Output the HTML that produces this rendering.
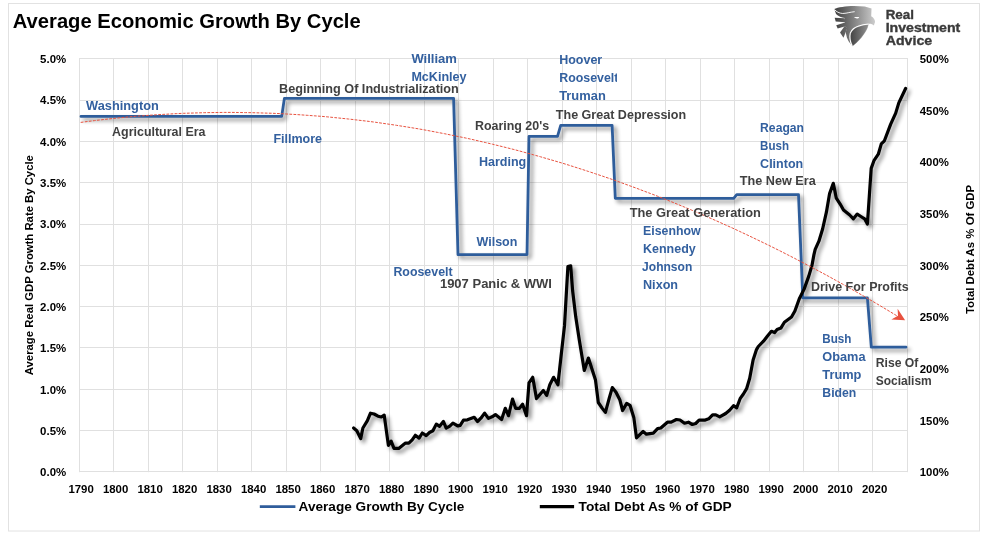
<!DOCTYPE html>
<html lang="en"><head><meta charset="utf-8"><title>Average Economic Growth By Cycle</title>
<style>
html,body{margin:0;padding:0;background:#fff;}
body{width:985px;height:536px;overflow:hidden;}
svg{display:block;}
svg text{font-family:"Liberation Sans",sans-serif;font-weight:bold;}
</style></head><body>
<svg width="985" height="536" viewBox="0 0 985 536">
<defs>
<filter id="sh" x="-5%" y="-5%" width="110%" height="115%"><feGaussianBlur in="SourceAlpha" stdDeviation="2.3"/><feOffset dx="2.5" dy="2.8" result="o"/><feComponentTransfer><feFuncA type="linear" slope="0.46"/></feComponentTransfer><feMerge><feMergeNode/><feMergeNode in="SourceGraphic"/></feMerge></filter>
<linearGradient id="eg" gradientUnits="userSpaceOnUse" x1="25" y1="0" x2="525" y2="0"><stop offset="0" stop-color="#3e3e3e"/><stop offset="0.5" stop-color="#858585"/><stop offset="1" stop-color="#cdcdcd"/></linearGradient>
<linearGradient id="eg2" x1="0" y1="0" x2="1" y2="0"><stop offset="0" stop-color="#454545"/><stop offset="1" stop-color="#909090"/></linearGradient>
<clipPath id="cr"><rect x="550" y="66" width="66.9" height="22"/></clipPath>
</defs>
<rect x="0" y="0" width="985" height="536" fill="#fff"/>
<rect x="8.5" y="3.5" width="971" height="527.5" fill="#fff" stroke="#E2E2E2" stroke-width="1"/>
<path d="M79.5,58 V472.2 M113.5,58 V472.2 M148.5,58 V472.2 M182.5,58 V472.2 M217.5,58 V472.2 M251.5,58 V472.2 M286.5,58 V472.2 M320.5,58 V472.2 M355.5,58 V472.2 M389.5,58 V472.2 M424.5,58 V472.2 M458.5,58 V472.2 M493.5,58 V472.2 M527.5,58 V472.2 M562.5,58 V472.2 M596.5,58 V472.2 M631.5,58 V472.2 M665.5,58 V472.2 M700.5,58 V472.2 M734.5,58 V472.2 M769.5,58 V472.2 M803.5,58 V472.2 M838.5,58 V472.2 M872.5,58 V472.2 M907.5,58 V472.2 M79,58.5 H908 M79,100.5 H908 M79,141.5 H908 M79,182.5 H908 M79,224.5 H908 M79,265.5 H908 M79,306.5 H908 M79,347.5 H908 M79,389.5 H908 M79,430.5 H908 M79,471.5 H908" fill="none" stroke="#E0E0E0" stroke-width="1"/>
<g fill="none" stroke-linejoin="round" stroke-linecap="round" filter="url(#sh)">
<path d="M81,116.4 L281.7,116.4 L284.4,98.4 L453.6,98.4 L458,254.6 L527,254.6 L529,136.3 L557.5,136.3 L560.7,125.3 L612.1,125.3 L615.3,198.3 L733.7,198.3 L736.7,194.6 L798.5,194.6 L802.8,297.9 L867.4,297.9 L871.3,347.2 L906,347.2" stroke="#2F5D9B" stroke-width="2.8"/>
<path d="M353.6,428 L356.8,430.8 L360.7,438.6 L362.9,428 L367.4,420.7 L370.5,413.2 L374.1,414 L378,416.2 L381.4,417 L384.2,415.1 L388.4,445.4 L391.1,441.2 L394,448.4 L398.7,448.4 L405.5,443.1 L408.8,443.1 L412.2,439.8 L415.3,435.3 L419.1,438.1 L422.3,433 L426.2,435.6 L429.5,432.5 L432.9,430.8 L436.3,424.1 L439.6,426.3 L443.4,421.4 L446.2,428.2 L449.8,426.2 L452.9,423.2 L457.9,426 L460.2,425.4 L463.5,420.2 L467.4,419.8 L474.2,417.3 L477.5,421.5 L480.9,418.2 L484.6,413.1 L488.4,418.4 L492.1,416.8 L495.4,414.6 L501.6,419.5 L505.3,408.3 L508.5,415.7 L512.5,399.1 L515.6,408.3 L519.5,408.3 L522.6,404.2 L526.5,415.7 L529,382.9 L532.7,377.3 L536.5,398.6 L543.3,390.4 L546.7,395.4 L549.8,384.8 L553.6,377.3 L557.9,384.8 L561,356.8 L564.5,325.9 L566.4,292.3 L567.9,266.6 L570.7,265.8 L572.6,290.5 L575.7,316.6 L579.3,340 L584.3,370.4 L588.4,358.1 L595.5,380.1 L598.3,402.5 L602.1,408.1 L605.4,412.4 L609.1,398.7 L612.3,387.6 L616,392.2 L619.8,399.7 L622.6,410.5 L626.7,403.4 L630,405.3 L633.8,417.4 L636.5,437.9 L643.1,431.4 L646.4,434.2 L653.3,433.2 L657.6,428.6 L660.8,428 L667.4,422.2 L671.2,422.2 L676.4,419.5 L680,420 L684.5,423.2 L688.4,422.2 L692.3,424.5 L695.7,423.5 L699.1,420.1 L705.3,420.1 L708.7,418.8 L712.6,414.9 L715.8,414.9 L719.7,416.9 L725.7,413.5 L729.6,410.2 L733.5,405.7 L736.7,407.8 L740.1,398.7 L743.4,394 L746.6,388.7 L749.7,378.3 L753.1,360 L756.5,349.6 L758.3,346.5 L763.5,341.2 L767.5,336 L771.4,331.3 L774.5,332.6 L777.1,329.5 L781,327.9 L784.4,322.2 L791.5,317 L794.9,311 L799.3,298.8 L804,289.4 L808.7,276.4 L812,265.2 L813.9,254.9 L815.2,249.3 L818.9,241.2 L822.6,229 L826.4,212.2 L829.6,193.6 L833.3,183.3 L836.3,198.2 L840,203.8 L843.5,210 L849.7,215 L853.4,218.8 L857.2,214.1 L860.9,216.5 L864.6,218.8 L867.4,224 L869.3,196.4 L871.2,168.4 L874.1,160.3 L878.3,154.2 L881.3,143.9 L884.4,140.8 L890.6,124.4 L895.7,113.1 L898.8,102.9 L905.6,88.5" stroke="#000" stroke-width="3.2"/>
</g>
<path d="M80.7,122.4 L87.6,121.5 L94.4,120.6 L101.3,119.8 L108.2,119 L115,118.3 L121.9,117.6 L128.7,116.9 L135.6,116.3 L142.5,115.8 L149.3,115.3 L156.2,114.8 L163.1,114.4 L169.9,114 L176.8,113.6 L183.7,113.3 L190.5,113.1 L197.4,112.9 L204.2,112.7 L211.1,112.6 L218,112.5 L224.8,112.4 L231.7,112.4 L238.6,112.5 L245.4,112.6 L252.3,112.7 L259.2,112.9 L266,113.1 L272.9,113.3 L279.8,113.6 L286.6,114 L293.5,114.4 L300.3,114.8 L307.2,115.3 L314.1,115.8 L320.9,116.3 L327.8,116.9 L334.7,117.6 L341.5,118.3 L348.4,119 L355.3,119.8 L362.1,120.6 L369,121.4 L375.8,122.3 L382.7,123.3 L389.6,124.3 L396.4,125.3 L403.3,126.4 L410.2,127.5 L417,128.6 L423.9,129.8 L430.8,131.1 L437.6,132.4 L444.5,133.7 L451.3,135.1 L458.2,136.5 L465.1,137.9 L471.9,139.4 L478.8,141 L485.7,142.6 L492.5,144.2 L499.4,145.9 L506.3,147.6 L513.1,149.3 L520,151.1 L526.9,153 L533.7,154.9 L540.6,156.8 L547.4,158.8 L554.3,160.8 L561.2,162.8 L568,164.9 L574.9,167.1 L581.8,169.3 L588.6,171.5 L595.5,173.8 L602.4,176.1 L609.2,178.4 L616.1,180.8 L622.9,183.3 L629.8,185.8 L636.7,188.3 L643.5,190.9 L650.4,193.5 L657.3,196.1 L664.1,198.8 L671,201.6 L677.9,204.4 L684.7,207.2 L691.6,210.1 L698.4,213 L705.3,216 L712.2,219 L719,222 L725.9,225.1 L732.8,228.2 L739.6,231.4 L746.5,234.6 L753.4,237.9 L760.2,241.2 L767.1,244.5 L774,247.9 L780.8,251.3 L787.7,254.8 L794.5,258.3 L801.4,261.9 L808.3,265.5 L815.1,269.1 L822,272.8 L828.9,276.5 L835.7,280.3 L842.6,284.1 L849.5,288 L856.3,291.9 L863.2,295.8 L870,299.8 L876.9,303.8 L883.8,307.9 L890.6,312 L897.5,316.2" fill="none" stroke="#E8523F" stroke-width="1" stroke-dasharray="2.8 1.3"/>
<path d="M905.1,320.2 L891.3,319.5 L898,315.7 L897.6,308.7 Z" fill="#E8523F"/>
<g fill="#33609F">
<text x="86.1" y="110.1" font-size="12.8" textLength="72.7" lengthAdjust="spacingAndGlyphs">Washington</text>
<text x="273.4" y="143" font-size="12.8" textLength="48.7" lengthAdjust="spacingAndGlyphs">Fillmore</text>
<text x="411.4" y="63.3" font-size="12.8" textLength="45.6" lengthAdjust="spacingAndGlyphs">William</text>
<text x="411.4" y="80.7" font-size="12.8" textLength="55.2" lengthAdjust="spacingAndGlyphs">McKinley</text>
<text x="478.9" y="166.3" font-size="12.8" textLength="47.4" lengthAdjust="spacingAndGlyphs">Harding</text>
<text x="476.5" y="246.1" font-size="12.8" textLength="40.9" lengthAdjust="spacingAndGlyphs">Wilson</text>
<text x="393.4" y="275.6" font-size="12.8" textLength="59.2" lengthAdjust="spacingAndGlyphs">Roosevelt</text>
<text x="559.2" y="64.1" font-size="12.8" textLength="43" lengthAdjust="spacingAndGlyphs">Hoover</text>
<text x="559.2" y="99.8" font-size="12.8" textLength="46.6" lengthAdjust="spacingAndGlyphs">Truman</text>
<text x="760.1" y="132" font-size="12.8" textLength="43.9" lengthAdjust="spacingAndGlyphs">Reagan</text>
<text x="760.1" y="149.9" font-size="12.8" textLength="28.9" lengthAdjust="spacingAndGlyphs">Bush</text>
<text x="760.1" y="168.1" font-size="12.8" textLength="43.1" lengthAdjust="spacingAndGlyphs">Clinton</text>
<text x="643" y="235" font-size="12.8" textLength="57.6" lengthAdjust="spacingAndGlyphs">Eisenhow</text>
<text x="643" y="253" font-size="12.8" textLength="52.8" lengthAdjust="spacingAndGlyphs">Kennedy</text>
<text x="642.1" y="270.7" font-size="12.8" textLength="50.2" lengthAdjust="spacingAndGlyphs">Johnson</text>
<text x="643" y="288.6" font-size="12.8" textLength="35.1" lengthAdjust="spacingAndGlyphs">Nixon</text>
<text x="822.3" y="342.7" font-size="12.8" textLength="29.2" lengthAdjust="spacingAndGlyphs">Bush</text>
<text x="822.3" y="360.9" font-size="12.8" textLength="43.2" lengthAdjust="spacingAndGlyphs">Obama</text>
<text x="822.3" y="378.9" font-size="12.8" textLength="39.1" lengthAdjust="spacingAndGlyphs">Trump</text>
<text x="822.3" y="396.6" font-size="12.8" textLength="34" lengthAdjust="spacingAndGlyphs">Biden</text>
<g clip-path="url(#cr)"><text x="559.2" y="81.9" font-size="12.8" textLength="59.2" lengthAdjust="spacingAndGlyphs">Roosevelt</text></g>
</g>
<g fill="#404040">
<text x="112.1" y="136.1" font-size="12.8" textLength="93.4" lengthAdjust="spacingAndGlyphs">Agricultural Era</text>
<text x="279" y="93" font-size="12.8" textLength="179.8" lengthAdjust="spacingAndGlyphs">Beginning Of Industrialization</text>
<text x="474.9" y="129.9" font-size="12.8" textLength="74.2" lengthAdjust="spacingAndGlyphs">Roaring 20's</text>
<text x="439.9" y="287.9" font-size="12.8" textLength="112.1" lengthAdjust="spacingAndGlyphs">1907 Panic &amp; WWI</text>
<text x="555.8" y="118.5" font-size="12.8" textLength="130.4" lengthAdjust="spacingAndGlyphs">The Great Depression</text>
<text x="739.8" y="185.1" font-size="12.8" textLength="75.9" lengthAdjust="spacingAndGlyphs">The New Era</text>
<text x="629.7" y="217.2" font-size="12.8" textLength="131.2" lengthAdjust="spacingAndGlyphs">The Great Generation</text>
<text x="810.9" y="291" font-size="12.8" textLength="97.8" lengthAdjust="spacingAndGlyphs">Drive For Profits</text>
<text x="875.7" y="366.8" font-size="12.8" textLength="42.7" lengthAdjust="spacingAndGlyphs">Rise Of</text>
<text x="875.7" y="384.5" font-size="12.8" textLength="56.1" lengthAdjust="spacingAndGlyphs">Socialism</text>
</g>
<g fill="#000">
<text x="40.1" y="63.1" font-size="10.6" textLength="26.1" lengthAdjust="spacingAndGlyphs">5.0%</text>
<text x="40.1" y="104.4" font-size="10.6" textLength="26.1" lengthAdjust="spacingAndGlyphs">4.5%</text>
<text x="40.1" y="145.7" font-size="10.6" textLength="26.1" lengthAdjust="spacingAndGlyphs">4.0%</text>
<text x="40.1" y="187" font-size="10.6" textLength="26.1" lengthAdjust="spacingAndGlyphs">3.5%</text>
<text x="40.1" y="228.3" font-size="10.6" textLength="26.1" lengthAdjust="spacingAndGlyphs">3.0%</text>
<text x="40.1" y="269.6" font-size="10.6" textLength="26.1" lengthAdjust="spacingAndGlyphs">2.5%</text>
<text x="40.1" y="310.9" font-size="10.6" textLength="26.1" lengthAdjust="spacingAndGlyphs">2.0%</text>
<text x="40.1" y="352.2" font-size="10.6" textLength="26.1" lengthAdjust="spacingAndGlyphs">1.5%</text>
<text x="40.1" y="393.5" font-size="10.6" textLength="26.1" lengthAdjust="spacingAndGlyphs">1.0%</text>
<text x="40.1" y="434.8" font-size="10.6" textLength="26.1" lengthAdjust="spacingAndGlyphs">0.5%</text>
<text x="40.1" y="476.1" font-size="10.6" textLength="26.1" lengthAdjust="spacingAndGlyphs">0.0%</text>
<text x="919.8" y="63.1" font-size="10.6" textLength="29.1" lengthAdjust="spacingAndGlyphs">500%</text>
<text x="919.8" y="114.7" font-size="10.6" textLength="29.1" lengthAdjust="spacingAndGlyphs">450%</text>
<text x="919.8" y="166.3" font-size="10.6" textLength="29.1" lengthAdjust="spacingAndGlyphs">400%</text>
<text x="919.8" y="218" font-size="10.6" textLength="29.1" lengthAdjust="spacingAndGlyphs">350%</text>
<text x="919.8" y="269.6" font-size="10.6" textLength="29.1" lengthAdjust="spacingAndGlyphs">300%</text>
<text x="919.8" y="321.2" font-size="10.6" textLength="29.1" lengthAdjust="spacingAndGlyphs">250%</text>
<text x="919.8" y="372.8" font-size="10.6" textLength="29.1" lengthAdjust="spacingAndGlyphs">200%</text>
<text x="919.8" y="424.5" font-size="10.6" textLength="29.1" lengthAdjust="spacingAndGlyphs">150%</text>
<text x="919.8" y="476.1" font-size="10.6" textLength="29.1" lengthAdjust="spacingAndGlyphs">100%</text>
<text x="68.4" y="492.9" font-size="10.6" textLength="25.4" lengthAdjust="spacingAndGlyphs">1790</text>
<text x="102.9" y="492.9" font-size="10.6" textLength="25.4" lengthAdjust="spacingAndGlyphs">1800</text>
<text x="137.4" y="492.9" font-size="10.6" textLength="25.4" lengthAdjust="spacingAndGlyphs">1810</text>
<text x="171.9" y="492.9" font-size="10.6" textLength="25.4" lengthAdjust="spacingAndGlyphs">1820</text>
<text x="206.4" y="492.9" font-size="10.6" textLength="25.4" lengthAdjust="spacingAndGlyphs">1830</text>
<text x="240.9" y="492.9" font-size="10.6" textLength="25.4" lengthAdjust="spacingAndGlyphs">1840</text>
<text x="275.4" y="492.9" font-size="10.6" textLength="25.4" lengthAdjust="spacingAndGlyphs">1850</text>
<text x="309.9" y="492.9" font-size="10.6" textLength="25.4" lengthAdjust="spacingAndGlyphs">1860</text>
<text x="344.4" y="492.9" font-size="10.6" textLength="25.4" lengthAdjust="spacingAndGlyphs">1870</text>
<text x="378.9" y="492.9" font-size="10.6" textLength="25.4" lengthAdjust="spacingAndGlyphs">1880</text>
<text x="413.4" y="492.9" font-size="10.6" textLength="25.4" lengthAdjust="spacingAndGlyphs">1890</text>
<text x="447.9" y="492.9" font-size="10.6" textLength="25.4" lengthAdjust="spacingAndGlyphs">1900</text>
<text x="482.4" y="492.9" font-size="10.6" textLength="25.4" lengthAdjust="spacingAndGlyphs">1910</text>
<text x="516.9" y="492.9" font-size="10.6" textLength="25.4" lengthAdjust="spacingAndGlyphs">1920</text>
<text x="551.4" y="492.9" font-size="10.6" textLength="25.4" lengthAdjust="spacingAndGlyphs">1930</text>
<text x="585.9" y="492.9" font-size="10.6" textLength="25.4" lengthAdjust="spacingAndGlyphs">1940</text>
<text x="620.4" y="492.9" font-size="10.6" textLength="25.4" lengthAdjust="spacingAndGlyphs">1950</text>
<text x="654.9" y="492.9" font-size="10.6" textLength="25.4" lengthAdjust="spacingAndGlyphs">1960</text>
<text x="689.4" y="492.9" font-size="10.6" textLength="25.4" lengthAdjust="spacingAndGlyphs">1970</text>
<text x="723.9" y="492.9" font-size="10.6" textLength="25.4" lengthAdjust="spacingAndGlyphs">1980</text>
<text x="758.4" y="492.9" font-size="10.6" textLength="25.4" lengthAdjust="spacingAndGlyphs">1990</text>
<text x="792.9" y="492.9" font-size="10.6" textLength="25.4" lengthAdjust="spacingAndGlyphs">2000</text>
<text x="827.4" y="492.9" font-size="10.6" textLength="25.4" lengthAdjust="spacingAndGlyphs">2010</text>
<text x="861.9" y="492.9" font-size="10.6" textLength="25.4" lengthAdjust="spacingAndGlyphs">2020</text>
<text transform="translate(33,375.2) rotate(-90)" font-size="10.8" textLength="220.1" lengthAdjust="spacingAndGlyphs">Average Real GDP Growth Rate By Cycle</text>
<text transform="translate(974.2,314) rotate(-90)" font-size="10.8" textLength="129.2" lengthAdjust="spacingAndGlyphs">Total Debt As % Of GDP</text>
<text x="12.8" y="27.8" font-size="20" textLength="347.9" lengthAdjust="spacingAndGlyphs">Average Economic Growth By Cycle</text>
<text x="298.6" y="511" font-size="13" textLength="165.8" lengthAdjust="spacingAndGlyphs">Average Growth By Cycle</text>
<text x="578.6" y="511" font-size="13" textLength="153.1" lengthAdjust="spacingAndGlyphs">Total Debt As % of GDP</text>
</g>
<path d="M259.8,506.6 H295.4" stroke="#2F5D9B" stroke-width="2.8"/>
<path d="M539.8,506.6 H574.1" stroke="#000" stroke-width="3.2"/>
<g transform="translate(832,4) scale(0.08203)">
<g fill="url(#eg)">
<path d="M28,62 C90,30 250,12 400,32 L482,55 L478,150 C505,165 525,190 525,220 L510,263 C495,245 470,240 448,243 C440,300 390,390 300,472 L250,516 C215,480 180,430 170,360 C168,335 175,310 184,296 L157,267 L158,226 L156,172 C120,168 75,150 49,123 L37,86 Z"/>
<path d="M33,168 L156,174 L162,224 L45,214 Z"/>
<path d="M52,260 L158,227 L164,270 L69,300 Z"/>
<path d="M98,346 L157,266 L188,294 L140,412 Z"/>
</g>
<path d="M33,70 C50,95 90,113 131,116 C160,116 185,108 205,105 C230,100 250,97 272,94" fill="none" stroke="#fff" stroke-width="11" stroke-linecap="round"/>
<path d="M256,505 C240,470 231,440 229,420 C227,395 228,378 233,358 C240,340 252,324 268,310 C284,297 300,287 322,279 C360,265 400,257 440,254 C432,300 385,388 298,468 Z" fill="url(#eg2)"/>
<path d="M246,512 C232,485 222,455 219.6,426.6 C217,400 217,378 222.6,355.5 C230,335 243,318 261,302 C277,288 295,278 317,270 C355,255 400,246 448,243" fill="none" stroke="#fff" stroke-width="13"/>
<path d="M270,160 L332,158 C325,180 290,186 270,160Z" fill="#fff"/>
</g>
<g fill="#3a3a3a" stroke="#3a3a3a" stroke-width="0.35">
<text x="885.7" y="18.7" font-size="12.7" textLength="28.3" lengthAdjust="spacingAndGlyphs">Real</text>
<text x="885.7" y="31.5" font-size="12.7" textLength="74.6" lengthAdjust="spacingAndGlyphs">Investment</text>
<text x="885.7" y="44.5" font-size="12.7" textLength="46.5" lengthAdjust="spacingAndGlyphs">Advice</text>
</g>
</svg>
</body></html>
